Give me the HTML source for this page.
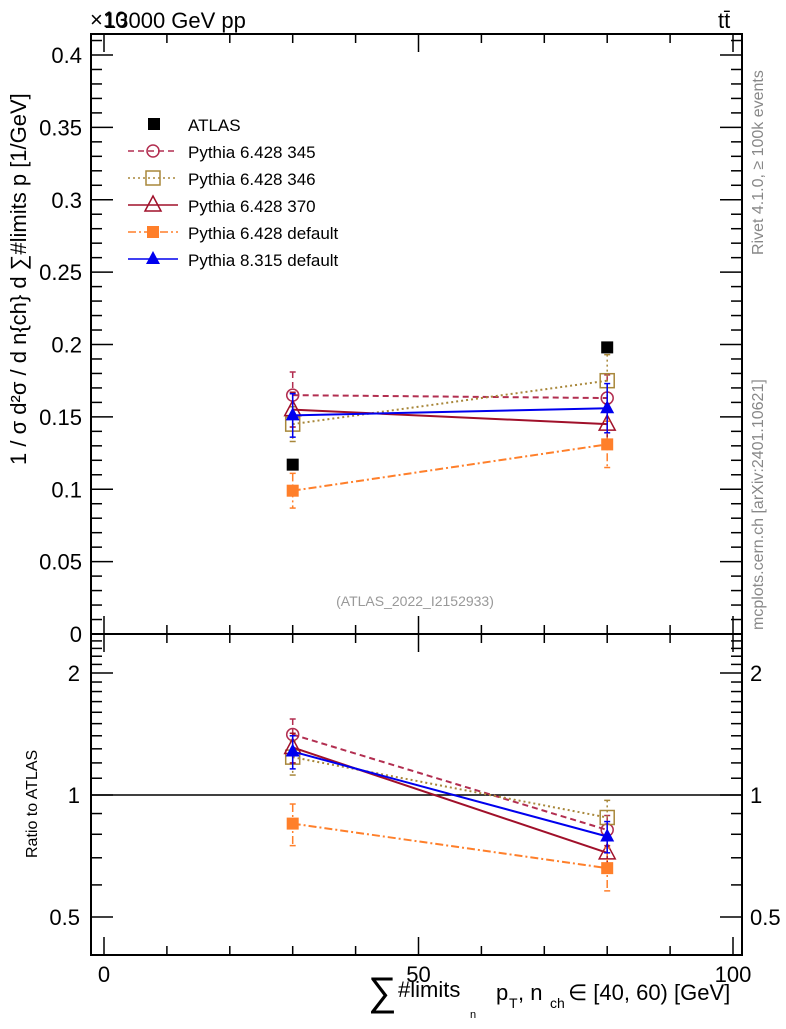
<!DOCTYPE html>
<html><head><meta charset="utf-8"><style>
body{margin:0;background:#fff;width:786px;height:1024px;overflow:hidden;font-family:"Liberation Sans",sans-serif}
svg text{font-family:"Liberation Sans","DejaVu Sans",sans-serif}
</style></head><body>
<svg id="chart" width="786" height="1024" xmlns="http://www.w3.org/2000/svg">
<g id="g"></g>
</svg>
<script>
const xs = [30, 80];
const names = ["ATLAS","Pythia 6.428 345","Pythia 6.428 346","Pythia 6.428 370","Pythia 6.428 default","Pythia 8.315 default"];
const vATLAS = [0.117, 0.198];
const v345 = [0.165, 0.163];
const v346 = [0.145, 0.175];
const v370 = [0.155, 0.145];
const vDef = [0.099, 0.131];
const v8 = [0.151, 0.156];
const e345 = [0.016, 0.016];
const e346 = [0.012, 0.018];
const e370 = [0.012, 0.014];
const eDef = [0.012, 0.016];
const e8 = [0.015, 0.017];
const r345 = [1.41, 0.82];
const r346 = [1.24, 0.88];
const r370 = [1.31, 0.72];
const rDef = [0.85, 0.66];
const r8 = [1.28, 0.79];
const re345 = [0.13, 0.07];
const re346 = [0.12, 0.09];
const re370 = [0.11, 0.07];
const reDef = [0.1, 0.08];
const re8 = [0.12, 0.07];
const mainTicks = ["0","0.05","0.1","0.15","0.2","0.25","0.3","0.35","0.4"];
const ratioTicks = [0.5, 1, 2];
const xTicks = [0, 50, 100];

const NS="http://www.w3.org/2000/svg";
const g=document.getElementById('g');
const L=91,R=742,T=34,M=634,B=955;
const X=v=>104+v*6.29;
const Y=v=>634-v*1447.5;
const YR=r=>795-122*Math.log2(r);
function el(t,a,p){const e=document.createElementNS(NS,t);for(const k in a)e.setAttribute(k,a[k]);(p||g).appendChild(e);return e;}
function txt(x,y,s,a){const e=el('text',Object.assign({x:x,y:y,'font-size':20,fill:'#000'},a||{}));e.textContent=s;return e;}

const f1=el('rect',{x:L,y:T,width:R-L,height:M-T,fill:'none',stroke:'#000','stroke-width':2});


const f2=el('rect',{x:L,y:M,width:R-L,height:B-M,fill:'none',stroke:'#000','stroke-width':2});



for(let v=0;v<=100;v+=10){
  const l=(v%50===0)?18:9;
  [[T,1],[M,-1],[M,1],[B,-1]].forEach(([y,d])=>el('line',{x1:X(v),x2:X(v),y1:y,y2:y+d*l,stroke:'#000','stroke-width':1.5}));
}
xTicks.forEach(v=>{const t=txt(X(v),982,String(v),{'text-anchor':'middle','font-size':22});

});

for(let i=0;i<=41;i++){const v=i*0.01;const y=Y(v);if(y<T)break;const l=(i%5===0)?22:11;
  el('line',{x1:L,x2:L+l,y1:y,y2:y,stroke:'#000','stroke-width':1.5});
  el('line',{x1:R,x2:R-l,y1:y,y2:y,stroke:'#000','stroke-width':1.5});}
mainTicks.forEach((s,i)=>{const t=txt(82,Y(i*0.05)+8,s,{'text-anchor':'end','font-size':22});

});

const minor=[0.4,0.5,0.6,0.7,0.8,0.9,1,1.1,1.2,1.3,1.4,1.5,1.6,1.7,1.8,1.9,2,2.1,2.2,2.3,2.4];
minor.forEach(r=>{const y=YR(r);if(y>B||y<M)return;const l=ratioTicks.includes(r)?22:11;
  el('line',{x1:L,x2:L+l,y1:y,y2:y,stroke:'#000','stroke-width':1.5});
  el('line',{x1:R,x2:R-l,y1:y,y2:y,stroke:'#000','stroke-width':1.5});});
ratioTicks.forEach(r=>{const t=txt(80,YR(r)+8,String(r),{'text-anchor':'end','font-size':22});


const t2=txt(750,YR(r)+8,String(r),{'font-size':22});

});
const one=el('line',{x1:L,x2:R,y1:YR(1),y2:YR(1),stroke:'#000','stroke-width':1.5});



const series=[
 {n:'p345',c:'#b22e50',d:'6,4',m:'circle',v:v345,e:e345,r:r345,re:re345},
 {n:'p346',c:'#a8873a',d:'2,3',m:'osquare',v:v346,e:e346,r:r346,re:re346},
 {n:'p370',c:'#a0102a',d:'',m:'otri',v:v370,e:e370,r:r370,re:re370},
 {n:'pdef',c:'#ff7f2a',d:'8,3,2,3',m:'square',v:vDef,e:eDef,r:rDef,re:reDef},
 {n:'p8',c:'#0000ee',d:'',m:'tri',v:v8,e:e8,r:r8,re:re8}];
function marker(m,x,y,c,p){
  if(m==='circle')return el('circle',{cx:x,cy:y,r:6,fill:'none',stroke:c,'stroke-width':1.5},p);
  if(m==='osquare')return el('rect',{x:x-7,y:y-7,width:14,height:14,fill:'none',stroke:c,'stroke-width':1.5},p);
  if(m==='square')return el('rect',{x:x-6,y:y-6,width:12,height:12,fill:c},p);
  if(m==='otri')return el('polygon',{points:`${x},${y-9} ${x-8},${y+6} ${x+8},${y+6}`,fill:'none',stroke:c,'stroke-width':1.5},p);
  if(m==='tri')return el('polygon',{points:`${x},${y-8} ${x-7},${y+5} ${x+7},${y+5}`,fill:c},p);
}
function drawSeries(s,vals,errs,Yf,tag){
  const grp=el('g',{});
  
  
  el('polyline',{points:xs.map((x,i)=>X(x)+','+Yf(vals[i])).join(' '),fill:'none',stroke:s.c,'stroke-width':2,'stroke-dasharray':s.d},grp);
  xs.forEach((x,i)=>{const y1=Yf(vals[i]+errs[i]),y2=Yf(Math.max(vals[i]-errs[i],0.001));
    el('line',{x1:X(x),x2:X(x),y1:y1,y2:y2,stroke:s.c,'stroke-width':1.5,'stroke-dasharray':s.d},grp);
    el('line',{x1:X(x)-3,x2:X(x)+3,y1:y1,y2:y1,stroke:s.c,'stroke-width':1.5},grp);
    el('line',{x1:X(x)-3,x2:X(x)+3,y1:y2,y2:y2,stroke:s.c,'stroke-width':1.5},grp);
    marker(s.m,X(x),Yf(vals[i]),s.c,grp);});
}
series.forEach(s=>{drawSeries(s,s.v,s.e,Y,'main');drawSeries(s,s.r,s.re,YR,'ratio');});
xs.forEach((x,i)=>{const r=el('rect',{x:X(x)-6,y:Y(vATLAS[i])-6,width:12,height:12,fill:'#000'});

});

const legY=[124,151,178,205,232,259];
const lg=el('g',{});


el('rect',{x:148,y:legY[0]-6,width:12,height:12,fill:'#000'},lg);
series.forEach((s,i)=>{const y=legY[i+1];
  el('line',{x1:128,x2:178,y1:y,y2:y,stroke:s.c,'stroke-width':1.5,'stroke-dasharray':s.d},lg);
  marker(s.m,153,y,s.c,lg);});
names.forEach((n,i)=>{const t=txt(188,legY[i]+7,n,{'font-size':17});lg.appendChild(t);

});

let t;
t=txt(90,27,'×10',{'font-size':22});
t=txt(104,28,'13000 GeV pp',{'font-size':22});
t=txt(718,28,'tt̄',{'font-size':22});
t=txt(415,606,'(ATLAS_2022_I2152933)',{'font-size':14,fill:'#999','text-anchor':'middle'});
t=txt(0,0,'Rivet 4.1.0, ≥ 100k events',{'font-size':16,fill:'#888',transform:'translate(763,255) rotate(-90)'});
t=txt(0,0,'mcplots.cern.ch [arXiv:2401.10621]',{'font-size':16,fill:'#888',transform:'translate(763,630) rotate(-90)'});
t=txt(0,0,'1 / σ d²σ / d n{ch} d ∑#limits  p  [1/GeV]',{'font-size':22,transform:'translate(26,465) rotate(-90)'});
t=txt(0,0,'Ratio to ATLAS',{'font-size':16,transform:'translate(37,858) rotate(-90)'});
t=txt(368,1005,'∑',{'font-size':40});
t=txt(398,997,'#limits',{'font-size':22});
t=txt(470,1018,'n',{'font-size':11});
t=txt(496,1000,'p',{'font-size':22});
t=txt(509,1008,'T',{'font-size':14});
t=txt(518,1000,', n',{'font-size':22});
t=txt(550,1008,'ch',{'font-size':14});
t=txt(568,1000,'∈ [40, 60) [GeV]',{'font-size':22});
</script>
</body></html>
